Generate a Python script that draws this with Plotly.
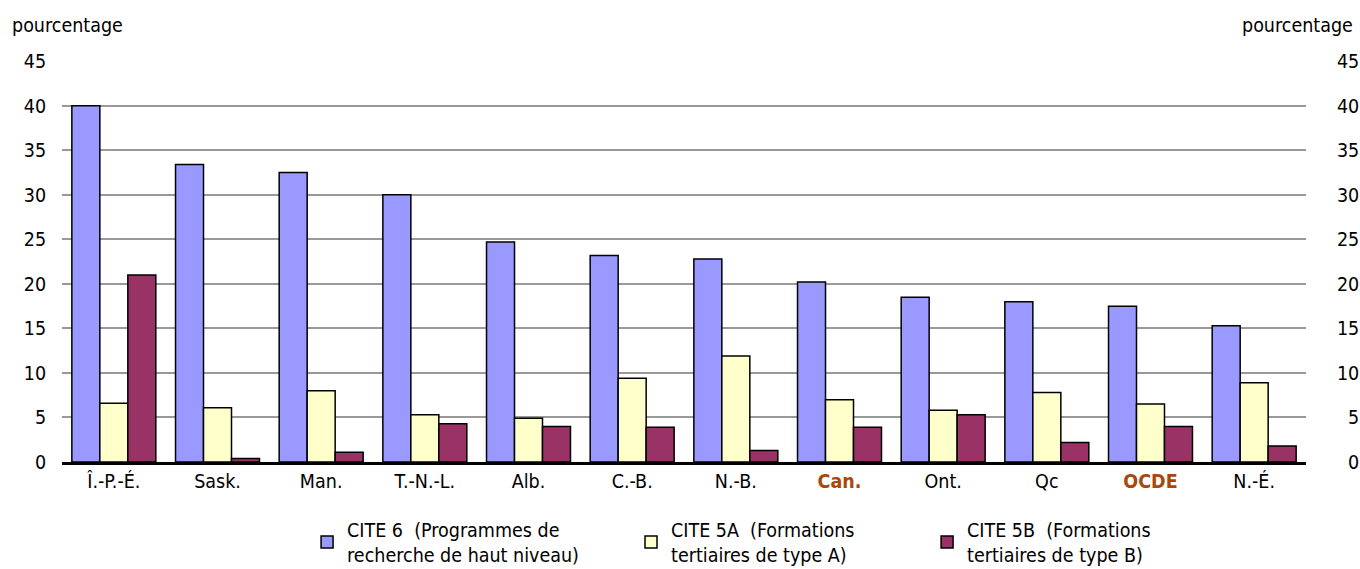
import plotly.graph_objects as go

categories = ["Î.-P.-É.", "Sask.", "Man.", "T.-N.-L.", "Alb.", "C.-B.", "N.-B.", "Can.", "Ont.", "Qc", "OCDE", "N.-É."]
tick_labels = ["Î.-P.-É.", "Sask.", "Man.", "T.-N.-L.", "Alb.", "C.-B.", "N.-B.",
               "<b><span style='color:#A9480A'>Can.</span></b>", "Ont.", "Qc",
               "<b><span style='color:#A9480A'>OCDE</span></b>", "N.-É."]
cite6 = [40.0, 33.4, 32.5, 30.0, 24.7, 23.2, 22.8, 20.2, 18.5, 18.0, 17.5, 15.3]
cite5a = [6.6, 6.1, 8.0, 5.3, 4.9, 9.4, 11.9, 7.0, 5.8, 7.8, 6.5, 8.9]
cite5b = [21.0, 0.4, 1.1, 4.3, 4.0, 3.9, 1.3, 3.9, 5.3, 2.2, 4.0, 1.8]
series_names = ["CITE 6  (Programmes de<br>recherche de haut niveau)",
                "CITE 5A  (Formations<br>tertiaires de type A)",
                "CITE 5B  (Formations<br>tertiaires de type B)"]
colors = ["#9999FF", "#FFFFCC", "#993366"]
y_ticks = [0, 5, 10, 15, 20, 25, 30, 35, 40, 45]
y_ticks_right = ["\u20070", "\u20075", "10", "15", "20", "25", "30", "35", "40", "45"]

FONT = "DejaVu Sans Condensed, Liberation Sans Narrow, sans-serif"
FS = 19.5
x_idx = list(range(len(categories)))

fig = go.Figure()
legends = ["legend", "legend2", "legend3"]
for vals, name, col, lg in zip([cite6, cite5a, cite5b], series_names, colors, legends):
    fig.add_trace(go.Bar(x=x_idx, y=vals, name=name, marker=dict(color=col, line=dict(color="black", width=1.5)),
                         legend=lg))
# invisible trace to carry the right axis
fig.add_trace(go.Scatter(x=[0], y=[0], yaxis="y2", mode="markers", marker=dict(opacity=0),
                         showlegend=False, hoverinfo="skip"))

leg_common = dict(orientation="v", yanchor="top", xanchor="left", y=-0.12,
                  font=dict(family=FONT, size=FS, color="black"), bgcolor="rgba(0,0,0,0)",
                  itemclick=False, itemdoubleclick=False)
fig.update_layout(
    width=1360, height=569,
    margin=dict(l=62, r=54, t=61, b=107, autoexpand=False),
    paper_bgcolor="white", plot_bgcolor="white",
    barmode="group", bargap=0.19, bargroupgap=0,
    font=dict(family=FONT, size=FS, color="black"),
    xaxis=dict(tickmode="array", tickvals=x_idx, ticktext=tick_labels, range=[-0.5, len(categories) - 0.5],
               showline=True, linecolor="black", linewidth=3, showgrid=False, ticks="", automargin=False,
               tickfont=dict(family=FONT, size=FS, color="black")),
    yaxis=dict(range=[0, 45.03], tickmode="array", tickvals=y_ticks, ticktext=[str(v) for v in y_ticks],
               showgrid=True, gridcolor="#999999", gridwidth=2, zeroline=False, automargin=False,
               ticks="outside", ticklen=11, tickcolor="rgba(0,0,0,0)",
               tickfont=dict(family=FONT, size=FS, color="black")),
    yaxis2=dict(range=[0, 45.03], overlaying="y", side="right", tickmode="array", tickvals=y_ticks,
                ticktext=y_ticks_right, showgrid=False, zeroline=False, automargin=False,
                ticks="outside", ticklen=26, tickcolor="rgba(0,0,0,0)",
                tickfont=dict(family=FONT, size=FS, color="black")),
    legend=dict(x=0.197, **leg_common),
    legend2=dict(x=0.4574, **leg_common),
    legend3=dict(x=0.6954, **leg_common),
    annotations=[
        dict(text="pourcentage", xref="paper", yref="paper", x=-0.0418, y=1.0, xanchor="left", yanchor="middle",
             yshift=36, showarrow=False, font=dict(family=FONT, size=FS, color="black")),
        dict(text="pourcentage", xref="paper", yref="paper", x=1.0394, y=1.0, xanchor="right", yanchor="middle",
             yshift=36, showarrow=False, font=dict(family=FONT, size=FS, color="black")),
    ],
)
fig.write_html("out.html", config={"displayModeBar": False},
               post_script="document.body.style.margin='0';document.body.style.overflow='hidden';")
